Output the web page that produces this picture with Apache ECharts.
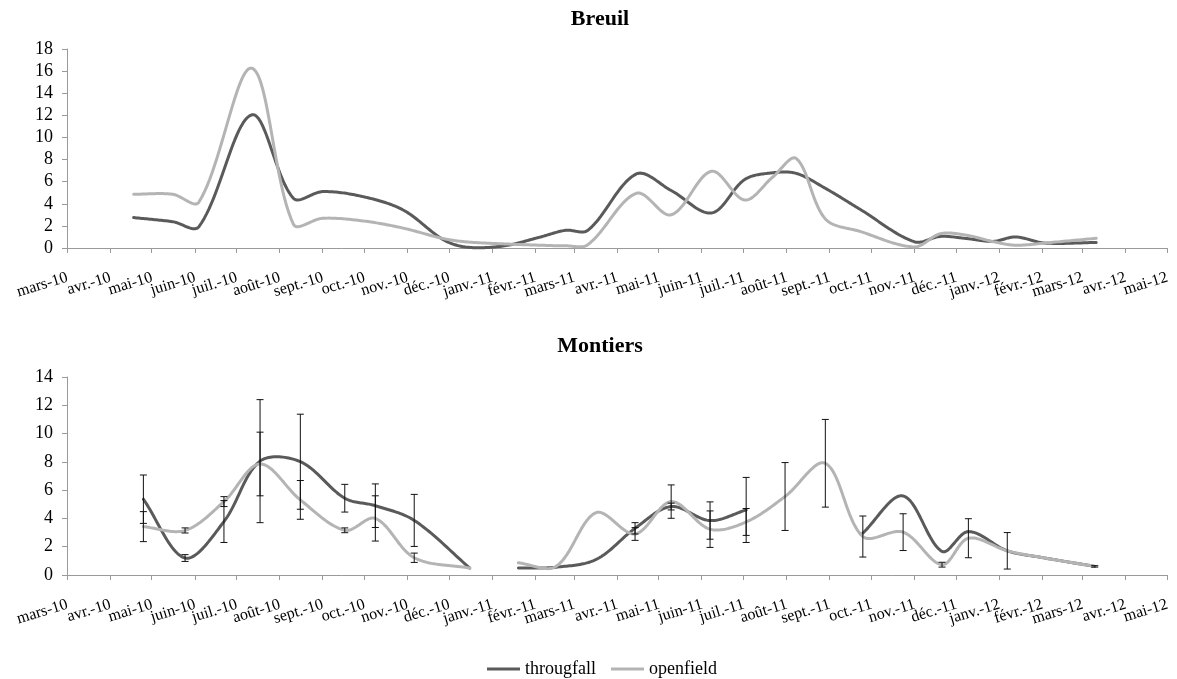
<!DOCTYPE html>
<html><head><meta charset="utf-8">
<script src="https://cdn.jsdelivr.net/npm/echarts@6/dist/echarts.min.js"></script>
<style>html,body{margin:0;padding:0;background:#fff}#c{width:1177px;height:679px}</style>
</head><body><div id="c"></div>
<script>
// x-axis tick labels (one per month, from mars-10 to mai-12)
const monthLabels = ['mars-10','avr.-10','mai-10','juin-10','juil.-10','août-10','sept.-10','oct.-10','nov.-10','déc.-10',
  'janv.-11','févr.-11','mars-11','avr.-11','mai-11','juin-11','juil.-11','août-11','sept.-11','oct.-11','nov.-11','déc.-11',
  'janv.-12','févr.-12','mars-12','avr.-12','mai-12'];

// Breuil
const breuilDates = ['2010-04-18','2010-05-16','2010-06-04','2010-07-12','2010-08-11','2010-09-01','2010-09-30','2010-10-29',
  '2010-11-27','2010-12-14','2011-01-10','2011-02-05','2011-02-23','2011-03-11','2011-04-15','2011-05-10','2011-06-08',
  '2011-07-02','2011-07-22','2011-08-08','2011-08-29','2011-09-23','2011-11-01','2011-11-20','2011-12-09','2011-12-28',
  '2012-01-13','2012-02-03','2012-03-11'];
const breuilThroughfall = [2.75,2.38,1.93,12.05,4.5,5.1,4.65,3.44,0.75,0.07,0.2,1.0,1.6,1.6,6.7,5.2,3.17,6.2,6.8,6.75,5.4,3.5,0.57,1.05,0.85,0.6,1.0,0.45,0.5];
const breuilOpenfield   = [4.86,4.86,4.15,16.27,2.15,2.69,2.45,1.8,0.85,0.55,0.37,0.25,0.2,0.3,4.95,3.0,6.94,4.34,6.4,8.1,2.63,1.5,0.1,1.3,1.15,0.57,0.25,0.45,0.88];

// Montiers (null = missing value)
const montiersDates = ['2010-04-25','2010-05-25','2010-06-22','2010-07-18','2010-08-16','2010-09-17','2010-10-09','2010-11-06',
  '2010-12-16','2011-01-03','2011-01-20','2011-02-16','2011-03-17','2011-04-14','2011-05-10','2011-06-07','2011-07-03',
  '2011-07-31','2011-08-29','2011-09-25','2011-10-24','2011-11-21','2011-12-10','2012-01-07','2012-01-30','2012-03-10'];
const montiersThroughfall    = [5.36,1.2,3.78,8.05,8.01,5.43,4.9,3.86,0.49,null,0.49,0.55,1.1,3.3,4.84,3.85,4.6,null,null,2.96,5.59,1.67,3.07,1.71,1.27,0.61];
const montiersThroughfallErr = [1.71,0.24,1.48,4.35,3.36,0.98,1.54,1.84,null,null,null,null,null,0.4,0.24,1.32,2.3,null,null,null,null,null,null,null,null,null];
const montiersOpenfield      = [3.42,3.15,5.19,7.85,5.31,3.16,4.0,1.22,0.49,null,0.86,0.6,4.41,2.9,5.19,3.24,3.75,5.55,7.9,2.72,3.03,0.73,2.6,1.71,1.27,0.61];
const montiersOpenfieldErr   = [1.06,0.18,0.35,2.25,1.37,0.17,1.6,0.33,null,null,null,null,null,0.45,1.18,1.29,0.95,2.4,3.1,1.45,1.3,0.17,1.38,1.29,null,0.05];

const FONT = 'Liberation Serif';
const DARK = '#5a5a5a', LIGHT = '#b4b4b4', AXIS = '#9a9a9a';
const DAY = 86400000;

// x values are days since the first month tick (2010-03-01)
const ORIGIN = Date.UTC(2010, 2, 1);
function dayOf(s){ const p = s.split('-').map(Number); return (Date.UTC(p[0], p[1]-1, p[2]) - ORIGIN) / DAY; }
const tickDays = monthLabels.map((_, i) => (Date.UTC(2010, 2 + i, 1) - ORIGIN) / DAY);
const labelMap = new Map(tickDays.map((t, i) => [t, monthLabels[i]]));
const xMin = tickDays[0], xMax = tickDays[tickDays.length - 1];
const evenTicks = tickDays.filter((_, i) => i % 2 === 0);
const oddTicks = tickDays.filter((_, i) => i % 2 === 1);

function rows(dates, vals){ return dates.map((d, i) => [dayOf(d), vals[i] == null ? NaN : vals[i]]); }
function errRows(dates, vals, errs){
  const out = [];
  dates.forEach((d, i) => { if (vals[i] != null && errs[i] != null) out.push([dayOf(d), vals[i], errs[i]]); });
  return out;
}

const xLabelStyle = {
  rotate: 17, margin: 21, color: '#000', fontFamily: FONT, fontSize: 16, hideOverlap: false,
  verticalAlign: 'top', align: 'right', padding: [0, 2, 0, 0],
  showMinLabel: true, showMaxLabel: true,
  formatter: v => labelMap.get(Math.round(v)) || ''
};
// main x axis: line, all monthly ticks, every other label
function xAxisMain(gridIndex){
  return {
    type: 'value', gridIndex, min: xMin, max: xMax, position: 'bottom',
    axisLine: { show: true, onZero: false, lineStyle: { color: AXIS, width: 1 } },
    axisTick: { show: true, length: 5, lineStyle: { color: AXIS }, customValues: tickDays },
    splitLine: { show: false },
    axisLabel: Object.assign({ customValues: evenTicks }, xLabelStyle)
  };
}
// companion x axis on the same scale carrying the remaining month labels
function xAxisAlt(gridIndex){
  return {
    type: 'value', gridIndex, min: xMin, max: xMax, position: 'bottom', offset: 0,
    axisLine: { show: false, onZero: false }, axisTick: { show: false }, splitLine: { show: false },
    axisLabel: Object.assign({ customValues: oddTicks }, xLabelStyle)
  };
}
function yAxis(gridIndex, max){
  return {
    type: 'value', gridIndex, min: 0, max, interval: 2,
    axisLine: { show: true, lineStyle: { color: AXIS, width: 1 } },
    axisTick: { show: true, length: 5, lineStyle: { color: AXIS } },
    splitLine: { show: false },
    axisLabel: { color: '#000', fontFamily: FONT, fontSize: 18, margin: 14 }
  };
}

// Smoothed line (spreadsheet-style spline through the data points, in pixel space)
function splineSeries(name, color, data, xIdx, yIdx, z){
  return {
    name, type: 'custom', xAxisIndex: xIdx, yAxisIndex: yIdx, data, z, silent: true,
    encode: { x: 0, y: 1 }, itemStyle: { color },
    renderItem: function(params, api){
      if (params.dataIndex !== 0) return null;
      const segs = []; let cur = [];
      data.forEach(r => {
        if (isNaN(r[1])) { if (cur.length) segs.push(cur); cur = []; }
        else cur.push(api.coord([r[0], r[1]]));
      });
      if (cur.length) segs.push(cur);
      const dist = (a, b) => Math.hypot(b[0] - a[0], b[1] - a[1]);
      const children = segs.map(P => {
        const n = P.length;
        const outH = [], inH = [];
        for (let i = 0; i < n; i++) {
          const prev = P[Math.max(i - 1, 0)], next = P[Math.min(i + 1, n - 1)];
          const dp = dist(prev, P[i]), dn = dist(P[i], next);
          const vx = next[0] - prev[0], vy = next[1] - prev[1];
          const tot = dp + dn || 1;
          const k = 1 / 3;
          outH.push([P[i][0] + vx * k * dn / tot, P[i][1] + vy * k * dn / tot]);
          inH.push([P[i][0] - vx * k * dp / tot, P[i][1] - vy * k * dp / tot]);
        }
        const pts = [];
        for (let i = 0; i < n - 1; i++) {
          const p1 = P[i], p2 = P[i + 1], c1 = outH[i], c2 = inH[i + 1];
          const steps = 24;
          for (let s = (i === 0 ? 0 : 1); s <= steps; s++) {
            const t = s / steps, u = 1 - t;
            const a = u*u*u, b = 3*u*u*t, c = 3*u*t*t, d = t*t*t;
            pts.push([a*p1[0] + b*c1[0] + c*c2[0] + d*p2[0], a*p1[1] + b*c1[1] + c*c2[1] + d*p2[1]]);
          }
        }
        return { type: 'polyline', shape: { points: pts },
          style: { stroke: color, lineWidth: 3, fill: null, lineJoin: 'round', lineCap: 'round' } };
      });
      return { type: 'group', children };
    }
  };
}
function errSeries(data, xIdx, yIdx){
  return {
    type: 'custom', xAxisIndex: xIdx, yAxisIndex: yIdx, data, z: 5, silent: true,
    encode: { x: 0, y: 1 },
    renderItem: function(params, api){
      const x = api.value(0), y = api.value(1), e = api.value(2);
      const top = api.coord([x, y + e]), bot = api.coord([x, y - e]);
      const hw = 3.5, st = { stroke: '#111', lineWidth: 1 };
      return { type: 'group', children: [
        { type: 'line', shape: { x1: top[0], y1: top[1], x2: bot[0], y2: bot[1] }, style: st },
        { type: 'line', shape: { x1: top[0]-hw, y1: top[1], x2: top[0]+hw, y2: top[1] }, style: st },
        { type: 'line', shape: { x1: bot[0]-hw, y1: bot[1], x2: bot[0]+hw, y2: bot[1] }, style: st }
      ]};
    }
  };
}

const chart = echarts.init(document.getElementById('c'), null, { renderer: 'canvas' });
chart.setOption({
  animation: false,
  backgroundColor: '#fff',
  title: [
    { text: 'Breuil', left: 595, textAlign: 'center', top: 3, textStyle: { fontFamily: FONT, fontSize: 22, fontWeight: 'bold', color: '#000' } },
    { text: 'Montiers', left: 595, textAlign: 'center', top: 330, textStyle: { fontFamily: FONT, fontSize: 22, fontWeight: 'bold', color: '#000' } }
  ],
  legend: {
    data: ['througfall', 'openfield'], left: 482, top: 655, icon: 'rect', itemWidth: 33, itemHeight: 3, itemGap: 15,
    textStyle: { fontFamily: FONT, fontSize: 18, color: '#000' }
  },
  grid: [
    { left: 67, right: 10, top: 49, height: 199, containLabel: false, outerBoundsMode: 'none' },
    { left: 67, right: 10, top: 377, height: 198, containLabel: false, outerBoundsMode: 'none' }
  ],
  xAxis: [xAxisMain(0), xAxisAlt(0), xAxisMain(1), xAxisAlt(1)],
  yAxis: [yAxis(0, 18), yAxis(1, 14)],
  series: [
    splineSeries('througfall', DARK, rows(breuilDates, breuilThroughfall), 0, 0, 2),
    splineSeries('openfield', LIGHT, rows(breuilDates, breuilOpenfield), 0, 0, 3),
    splineSeries('througfall', DARK, rows(montiersDates, montiersThroughfall), 2, 1, 2),
    splineSeries('openfield', LIGHT, rows(montiersDates, montiersOpenfield), 2, 1, 3),
    errSeries(errRows(montiersDates, montiersThroughfall, montiersThroughfallErr), 2, 1),
    errSeries(errRows(montiersDates, montiersOpenfield, montiersOpenfieldErr), 2, 1)
  ]
});
</script></body></html>
